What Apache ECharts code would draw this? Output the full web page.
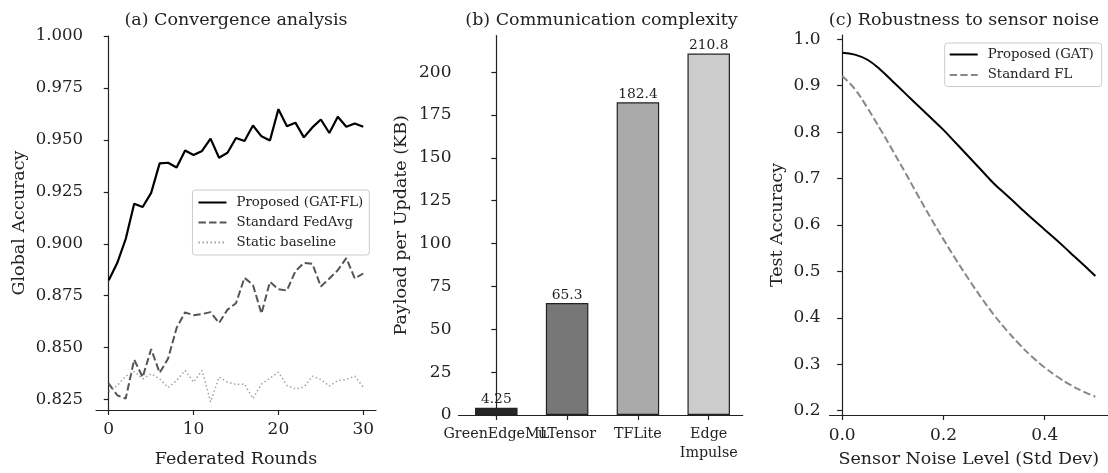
<!DOCTYPE html>
<html>
<head>
<meta charset="utf-8">
<script src="https://cdn.jsdelivr.net/npm/echarts/dist/echarts.min.js"></script>
<style>
html, body { margin: 0; padding: 0; background: #fff; }
#chart { width: 1108px; height: 473px; }
</style>
</head>
<body>
<div id="chart"></div>
<script>
// ---------- Data ----------
const rounds = [0,1,2,3,4,5,6,7,8,9,10,11,12,13,14,15,16,17,18,19,20,21,22,23,24,25,26,27,28,29,30];
const gatFL = [0.8825,0.8907,0.9023,0.9193,0.9177,0.9245,0.9387,0.9390,0.9367,0.9449,0.9427,0.9447,0.9506,0.9414,0.9438,0.9509,0.9495,0.9569,0.9517,0.9497,0.9648,0.9566,0.9583,0.9512,0.9560,0.9598,0.9533,0.9611,0.9563,0.9579,0.9563];
const fedAvg = [0.8327,0.8271,0.8255,0.8442,0.8358,0.8493,0.8379,0.8448,0.8595,0.8670,0.8656,0.8662,0.8671,0.8619,0.8683,0.8714,0.8836,0.8802,0.8664,0.8817,0.8781,0.8775,0.8868,0.8908,0.8904,0.8794,0.8833,0.8873,0.8931,0.8833,0.8857];
const staticBase = [0.8287,0.8318,0.8363,0.8385,0.8350,0.8374,0.8350,0.8308,0.8342,0.8390,0.8334,0.8390,0.8239,0.8358,0.8334,0.8323,0.8325,0.8255,0.8325,0.8353,0.8382,0.8318,0.8302,0.8310,0.8363,0.8347,0.8315,0.8342,0.8347,0.8363,0.8310];
const aXTicks = [0, 10, 20, 30];
const aYTicks = [0.825, 0.850, 0.875, 0.900, 0.925, 0.950, 0.975, 1.000];

const frameworks = ['GreenEdgeML', 'uTensor', 'TFLite', 'Edge\nImpulse'];
const payloadKB = [4.25, 65.3, 182.4, 210.8];
const barColors = ['#262626', '#777777', '#aaaaaa', '#cccccc'];
const bXTicks = [0, 1, 2, 3];
const bYTicks = [0, 25, 50, 75, 100, 125, 150, 175, 200];

const noiseLevels = [0, 0.025, 0.05, 0.075, 0.1, 0.125, 0.15, 0.175, 0.2, 0.225, 0.25, 0.275, 0.3, 0.325, 0.35, 0.375, 0.4, 0.425, 0.45, 0.475, 0.5];
const proposedGAT = [0.971, 0.967, 0.956, 0.935, 0.909, 0.883, 0.857, 0.831, 0.805, 0.776, 0.747, 0.718, 0.689, 0.664, 0.639, 0.614, 0.590, 0.566, 0.541, 0.516, 0.490];
const standardFL = [0.921, 0.893, 0.852, 0.807, 0.760, 0.712, 0.663, 0.615, 0.569, 0.525, 0.483, 0.443, 0.406, 0.373, 0.343, 0.316, 0.293, 0.273, 0.256, 0.242, 0.230];
const cXTicks = [0.0, 0.2, 0.4];
const cYTicks = [0.2, 0.3, 0.4, 0.5, 0.6, 0.7, 0.8, 0.9, 1.0];

// ---------- Styles ----------
const FONT = 'DejaVu Serif';
const INK = '#222';
const axisLineStyle = { show: true, lineStyle: { color: INK, width: 1.2 } };
const tickStyle = (vals) => ({ show: true, inside: false, length: 5, lineStyle: { color: INK, width: 1.2 }, customValues: vals });
const tickLabel = (vals, fmt, margin, size) => ({ show: true, customValues: vals, formatter: fmt, margin: margin,
  hideOverlap: false, color: INK, fontFamily: FONT, fontSize: size || 17 });
const nameStyle = () => ({ fontFamily: FONT, fontSize: 17.5, color: INK });
const titleStyle = () => ({ fontFamily: FONT, fontSize: 17.5, fontWeight: 'normal', color: INK });
const legendText = () => ({ fontFamily: FONT, fontSize: 13.3, color: INK, padding: [0, 0, 0, 5] });

const zip = (xs, ys) => xs.map((x, i) => [x, ys[i]]);

// panel (b) labels: a blank leading label (hidden as the "min" label) keeps every category name visible
const bLabelValues = [-0.5].concat(bXTicks);
const bLabelAxis = Object.assign(
  tickLabel(bLabelValues, v => (v < 0 ? '' : frameworks[Math.round(v)]), 10, 14.3),
  { lineHeight: 19, showMinLabel: false, showMaxLabel: true });

const option = {
  backgroundColor: '#fff',
  animation: false,
  title: [
    { text: '(a) Convergence analysis', left: 236, top: 11, padding: 0, textAlign: 'center', textStyle: titleStyle() },
    { text: '(b) Communication complexity', left: 601.5, top: 11, padding: 0, textAlign: 'center', textStyle: titleStyle() },
    { text: '(c) Robustness to sensor noise', left: 964, top: 11, padding: 0, textAlign: 'center', textStyle: titleStyle() }
  ],
  grid: [
    { left: 96, top: 36, width: 280, height: 379 },
    { left: 458.5, top: 35.5, width: 284.2, height: 379.5 },
    { left: 829.5, top: 35, width: 280.5, height: 380 }
  ],
  xAxis: [
    { gridIndex: 0, type: 'value', min: -1.5, max: 31.5,
      axisLine: axisLineStyle, axisTick: tickStyle(aXTicks), splitLine: { show: false },
      axisLabel: tickLabel(aXTicks, v => String(v), 11),
      name: 'Federated Rounds', nameLocation: 'middle', nameGap: 40, nameTextStyle: nameStyle() },
    { gridIndex: 1, type: 'value', min: -0.534, max: 3.48,
      axisLine: axisLineStyle, axisTick: tickStyle(bXTicks), splitLine: { show: false },
      axisLabel: bLabelAxis },
    { gridIndex: 2, type: 'value', min: -0.025, max: 0.525,
      axisLine: axisLineStyle, axisTick: tickStyle(cXTicks), splitLine: { show: false },
      axisLabel: tickLabel(cXTicks, v => v.toFixed(1), 12),
      name: 'Sensor Noise Level (Std Dev)', nameLocation: 'middle', nameGap: 35, nameTextStyle: nameStyle() }
  ],
  yAxis: [
    { gridIndex: 0, type: 'value', min: 0.82, max: 1.0,
      axisLine: axisLineStyle, axisTick: tickStyle(aYTicks), splitLine: { show: false },
      axisLabel: tickLabel(aYTicks, v => v.toFixed(3), 13, 16.5),
      name: 'Global Accuracy', nameLocation: 'middle', nameGap: 68, nameTextStyle: nameStyle() },
    { gridIndex: 1, type: 'value', min: 0, max: 221.34,
      axisLine: axisLineStyle, axisTick: tickStyle(bYTicks), splitLine: { show: false },
      axisLabel: tickLabel(bYTicks, v => String(v), 7),
      name: 'Payload per Update (KB)', nameLocation: 'middle', nameGap: 48, nameTextStyle: nameStyle() },
    { gridIndex: 2, type: 'value', min: 0.1907, max: 1.0093,
      axisLine: axisLineStyle, axisTick: tickStyle(cYTicks), splitLine: { show: false },
      axisLabel: tickLabel(cYTicks, v => v.toFixed(1), 9),
      name: 'Test Accuracy', nameLocation: 'middle', nameGap: 43, nameTextStyle: nameStyle() }
  ],
  legend: [
    { data: ['Proposed (GAT-FL)', 'Standard FedAvg', 'Static baseline'],
      orient: 'vertical', right: 738.7, top: 190, itemWidth: 28, itemHeight: 14, itemGap: 7,
      padding: [6, 6, 6, 5], backgroundColor: '#fff', borderColor: '#cccccc', borderWidth: 1, borderRadius: 3,
      itemStyle: { opacity: 0, borderWidth: 0 }, textStyle: legendText() },
    { data: ['Proposed (GAT)', 'Standard FL'],
      orient: 'vertical', right: 6.3, top: 43, itemWidth: 28, itemHeight: 14, itemGap: 7.5,
      padding: [5, 8, 5, 4], backgroundColor: '#fff', borderColor: '#cccccc', borderWidth: 1, borderRadius: 3,
      itemStyle: { opacity: 0, borderWidth: 0 }, textStyle: legendText() }
  ],
  series: [
    { name: 'Proposed (GAT-FL)', type: 'line', xAxisIndex: 0, yAxisIndex: 0, data: zip(rounds, gatFL),
      symbol: 'none', lineStyle: { color: '#000', width: 2.2, type: 'solid' }, itemStyle: { color: '#000' } },
    { name: 'Standard FedAvg', type: 'line', xAxisIndex: 0, yAxisIndex: 0, data: zip(rounds, fedAvg),
      symbol: 'none', lineStyle: { color: '#555', width: 2, type: [7.4, 3.2] }, itemStyle: { color: '#555' } },
    { name: 'Static baseline', type: 'line', xAxisIndex: 0, yAxisIndex: 0, data: zip(rounds, staticBase),
      symbol: 'none', lineStyle: { color: '#a0a0a0', width: 1.5, type: [1.5, 2.5] }, itemStyle: { color: '#a0a0a0' } },
    { name: 'Payload', type: 'bar', xAxisIndex: 1, yAxisIndex: 1, barWidth: 42.5,
      data: payloadKB.map((v, i) => ({ value: [bXTicks[i], v], itemStyle: { color: barColors[i] } })),
      itemStyle: { borderColor: '#222', borderWidth: 1.2 },
      label: { show: true, position: 'top', distance: 1, formatter: p => String(payloadKB[p.dataIndex]),
        fontFamily: FONT, fontSize: 13.8, color: INK } },
    { name: 'Proposed (GAT)', type: 'line', xAxisIndex: 2, yAxisIndex: 2, data: zip(noiseLevels, proposedGAT),
      symbol: 'none', smooth: 0.4, lineStyle: { color: '#000', width: 2, type: 'solid' }, itemStyle: { color: '#000' } },
    { name: 'Standard FL', type: 'line', xAxisIndex: 2, yAxisIndex: 2, data: zip(noiseLevels, standardFL),
      symbol: 'none', smooth: 0.4, lineStyle: { color: '#888', width: 2, type: [7.4, 3.2] }, itemStyle: { color: '#888' } }
  ]
};

const chart = echarts.init(document.getElementById('chart'), null, { renderer: 'canvas' });
chart.setOption(option);
</script>
</body>
</html>
